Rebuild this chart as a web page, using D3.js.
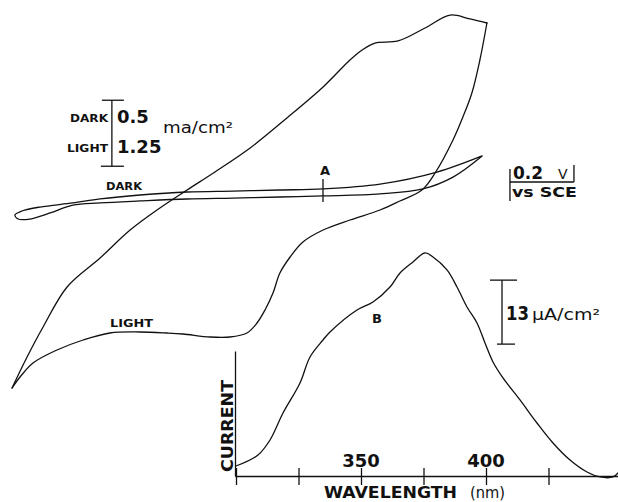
<!DOCTYPE html>
<html><head><meta charset="utf-8">
<script src="https://cdn.jsdelivr.net/npm/d3@7"></script>
<style>
html,body{margin:0;padding:0;background:#fff;}
svg{display:block;}
text{font-family:"DejaVu Sans",sans-serif;fill:#111;}
</style>
</head><body>
<svg id="chart" width="618" height="502"></svg>
<script>
// ---- DATA ----
// Cyclic voltammogram under illumination: [E (V, relative to A), I (mA/cm^2)]
const lightPositiveSweep = [
  [-0.978,-3.750],[-0.931,-3.163],[-0.881,-2.595],[-0.806,-1.837],[-0.703,-1.288],
  [-0.609,-0.758],[-0.516,-0.341],[-0.431,0.000],[-0.344,0.341],[-0.234,0.795],
  [-0.119,1.364],[-0.006,1.951],[0.078,2.462],[0.116,2.652],[0.156,2.784],
  [0.228,2.822],[0.3125,3.068],[0.391,3.314],[0.453,3.239],[0.506,3.163]
];
const lightNegativeSweep = [
  [0.506,3.163],[0.484,2.462],[0.459,1.837],[0.431,1.383],[0.400,0.947],
  [0.344,0.322],[0.303,0.000],[0.234,-0.208],[0.172,-0.379],[0.078,-0.568],
  [-0.006,-0.758],[-0.069,-0.985],[-0.109,-1.269],[-0.141,-1.572],[-0.1625,-1.951],
  [-0.1875,-2.273],[-0.2125,-2.519],[-0.244,-2.708],[-0.297,-2.784],[-0.359,-2.784],
  [-0.444,-2.727],[-0.494,-2.708],[-0.578,-2.689],[-0.672,-2.708],[-0.756,-2.841],
  [-0.8375,-3.030],[-0.9125,-3.277],[-0.953,-3.542],[-0.978,-3.750]
];
// Cyclic voltammogram in the dark: [E (V), I (mA/cm^2)]
const darkNegativeSweep = [
  [0.491,0.258],[0.350,0.136],[0.172,0.045],[-0.006,0.008],[-0.141,0.000],
  [-0.2875,-0.008],[-0.431,-0.015],[-0.578,-0.038],[-0.703,-0.068],[-0.788,-0.098],
  [-0.891,-0.129],[-0.947,-0.159],[-0.969,-0.189]
];
const darkPositiveSweep = [
  [-0.969,-0.189],[-0.959,-0.220],[-0.922,-0.220],[-0.859,-0.174],[-0.788,-0.114],
  [-0.703,-0.098],[-0.578,-0.083],[-0.431,-0.068],[-0.2875,-0.061],[-0.141,-0.053],
  [-0.006,-0.045],[0.172,-0.030],[0.306,0.008],[0.400,0.098],[0.491,0.258]
];
// Photocurrent spectrum B
const spectrumWavelength = [300,308.8,313.6,318.8,325.6,329.6,334.8,337.6,348.4,354.8,
  361.6,365.6,370.8,375.6,378.8,384.4,388.4,392.4,396.4,399.6,402.8,406.8,413.6,420.4,
  426.8,433.6,440.4,445.6,450.8,452.8];
const spectrumCurrent = [2.03,4.27,7.32,12.8,18.9,24.19,27.64,29.27,33.74,35.37,
  38.41,41.26,43.5,45.33,44.51,41.87,38.41,34.35,31.1,27.03,23.17,19.92,15.45,10.77,
  6.71,3.25,0.81,-0.2,-0.2,0.61];
const wavelengthTicks = [300,325,350,375,400,425];
const wavelengthTickLabels = [350,400];
// Scale bars
const darkBarCurrent = 0.5;     // mA/cm^2 (dark)  -- same length as 1.25 mA/cm^2 (light)
const potentialBar = 0.2;       // V
const spectrumBarCurrent = 13;  // uA/cm^2
const markerA = 0.0;            // V

// ---- SCALES ----
const svg = d3.select("#chart");
const xE = d3.scaleLinear().domain([-1, 0.5]).range([5, 485]);
const yLight = d3.scaleLinear().domain([-4, 3.5]).range([401.2, 5.2]);
const yDark = d3.scaleLinear().domain([-0.3, 0.3]).range([229.6, 150.4]);
const xW = d3.scaleLinear().domain([299.6, 452.8]).range([235, 618]);
const yS = d3.scaleLinear().domain([0, 25.4]).range([476, 351]);

const ink = "#111";
const sw = 1.3;
const curve = d3.curveCatmullRom.alpha(0.5);

const lineLight = d3.line().x(d => xE(d[0])).y(d => yLight(d[1])).curve(curve);
const lineDark = d3.line().x(d => xE(d[0])).y(d => yDark(d[1])).curve(curve);
const lineSpec = d3.line().x(d => xW(d[0])).y(d => yS(d[1])).curve(curve);

const g = svg.append("g").attr("fill", "none").attr("stroke", ink)
  .attr("stroke-width", sw).attr("stroke-linejoin", "round").attr("stroke-linecap", "round");

g.append("path").attr("d", lineLight(lightPositiveSweep));
g.append("path").attr("d", lineLight(lightNegativeSweep));
g.append("path").attr("d", lineDark(darkNegativeSweep.concat(darkPositiveSweep.slice(1))));

const spectrum = spectrumWavelength.map((w, i) => [w, spectrumCurrent[i]]);
g.append("path").attr("d", lineSpec(spectrum));

// Spectrum axes
const xAxis = svg.append("g").attr("transform", "translate(0,476)")
  .call(d3.axisBottom(xW).tickValues(wavelengthTicks).tickSize(9).tickSizeOuter(0).tickFormat(""));
xAxis.selectAll("line").attr("y1", -8).attr("stroke", ink).attr("stroke-width", sw);
xAxis.select(".domain").attr("stroke", ink).attr("stroke-width", sw);

const yAxis = svg.append("g").attr("transform", "translate(235,0)")
  .call(d3.axisLeft(yS).tickValues([]).tickSizeOuter(0));
yAxis.select(".domain").attr("stroke", ink).attr("stroke-width", sw);

svg.selectAll(".wlabel").data(wavelengthTickLabels).enter().append("text")
  .attr("x", d => xW(d)).attr("y", 467).attr("text-anchor", "middle")
  .attr("font-weight", "bold").attr("font-size", 18).text(d => d);

function txt(x, y, s, opts) {
  const t = svg.append("text").attr("x", x).attr("y", y).text(s);
  Object.entries(opts || {}).forEach(([k, v]) => t.attr(k, v));
  return t;
}

txt(324, 498, "WAVELENGTH", {"font-weight":"bold","font-size":16,"textLength":133,"lengthAdjust":"spacingAndGlyphs"});
txt(470, 498, "(nm)", {"font-size":16,"textLength":35,"lengthAdjust":"spacingAndGlyphs"});
svg.append("text").attr("transform", "translate(233,426) rotate(-90)")
  .attr("text-anchor", "middle").attr("font-weight", "bold").attr("font-size", 16)
  .attr("textLength", 92).attr("lengthAdjust", "spacingAndGlyphs").text("CURRENT");

// Dark/light current scale bar
const barX = xE(-0.666);
const darkBase = 0.18;
const bars = svg.append("g").attr("stroke", ink).attr("stroke-width", sw);
bars.append("line").attr("x1", barX).attr("x2", barX)
  .attr("y1", yDark(darkBase)).attr("y2", yDark(darkBase + darkBarCurrent));
bars.append("line").attr("x1", barX - 10).attr("x2", barX + 12)
  .attr("y1", yDark(darkBase + darkBarCurrent)).attr("y2", yDark(darkBase + darkBarCurrent));
bars.append("line").attr("x1", barX - 11).attr("x2", barX + 12)
  .attr("y1", yDark(darkBase)).attr("y2", yDark(darkBase));

txt(70, 122, "DARK", {"font-weight":"bold","font-size":10,"textLength":38,"lengthAdjust":"spacingAndGlyphs"});
txt(117, 123, "0.5", {"font-weight":"bold","font-size":18});
txt(67, 152, "LIGHT", {"font-weight":"bold","font-size":10,"textLength":41,"lengthAdjust":"spacingAndGlyphs"});
txt(117, 153, "1.25", {"font-weight":"bold","font-size":18});
txt(163, 133, "ma/cm²", {"font-size":16,"textLength":70,"lengthAdjust":"spacingAndGlyphs"});

// curve labels
txt(106, 190, "DARK", {"font-weight":"bold","font-size":10,"textLength":36,"lengthAdjust":"spacingAndGlyphs"});
txt(110, 327, "LIGHT", {"font-weight":"bold","font-size":10,"textLength":43,"lengthAdjust":"spacingAndGlyphs"});
txt(xE(markerA), 175, "A", {"font-weight":"bold","font-size":13,"text-anchor":"middle"});
bars.append("line").attr("x1", xE(markerA) - 2).attr("x2", xE(markerA) - 2).attr("y1", 179).attr("y2", 202);
txt(372, 323, "B", {"font-weight":"bold","font-size":13});

// Potential scale bar
const vx0 = xE(0.578), vx1 = xE(0.578 + potentialBar);
bars.append("line").attr("x1", vx0).attr("x2", vx1).attr("y1", 182).attr("y2", 182);
bars.append("line").attr("x1", vx0).attr("x2", vx0).attr("y1", 169).attr("y2", 201);
bars.append("line").attr("x1", vx1).attr("x2", vx1).attr("y1", 165).attr("y2", 182);
txt(513, 179, "0.2", {"font-weight":"bold","font-size":17});
txt(558, 179, "V", {"font-size":14});
txt(512, 197, "vs SCE", {"font-weight":"bold","font-size":14,"textLength":65,"lengthAdjust":"spacingAndGlyphs"});

// Spectrum scale bar
const sBase = 26.8;
const sx = 502;
bars.append("line").attr("x1", sx).attr("x2", sx).attr("y1", yS(sBase)).attr("y2", yS(sBase + spectrumBarCurrent));
bars.append("line").attr("x1", sx - 12).attr("x2", sx + 15).attr("y1", yS(sBase + spectrumBarCurrent)).attr("y2", yS(sBase + spectrumBarCurrent));
bars.append("line").attr("x1", sx - 5).attr("x2", sx + 13).attr("y1", yS(sBase)).attr("y2", yS(sBase));
txt(506, 320, "13", {"font-weight":"bold","font-size":19,"textLength":23,"lengthAdjust":"spacingAndGlyphs"});
txt(532, 320, "μA/cm²", {"font-size":16,"textLength":68,"lengthAdjust":"spacingAndGlyphs"});
</script>
</body></html>
